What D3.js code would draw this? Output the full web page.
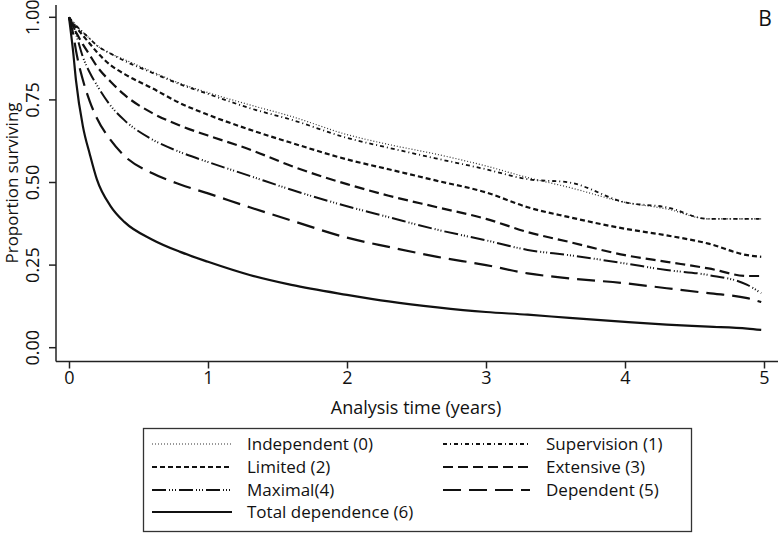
<!DOCTYPE html>
<html>
<head>
<meta charset="utf-8">
<script src="https://cdn.jsdelivr.net/npm/d3@7"></script>
<style>
  html, body { margin: 0; padding: 0; background: #fff; }
  svg { display: block; font-family: "Open Sans", "Noto Sans", sans-serif; }
</style>
</head>
<body>
<svg id="chart" width="778" height="556"></svg>
<script>
// ---- data ----
const times = [0, 0.03, 0.05, 0.1, 0.15, 0.2, 0.3, 0.4, 0.6, 0.8, 1.0, 1.3, 1.6, 2.0, 2.3, 2.65, 3.0, 3.3, 3.6, 4.0, 4.3, 4.6, 4.88, 4.98];
const independent = [1, 0.985, 0.975, 0.955, 0.935, 0.915, 0.89, 0.872, 0.835, 0.80, 0.772, 0.735, 0.70, 0.645, 0.615, 0.585, 0.55, 0.515, 0.485, 0.44, 0.42, 0.39, 0.39, 0.39];
const supervision = [1, 0.985, 0.975, 0.955, 0.935, 0.915, 0.89, 0.868, 0.832, 0.797, 0.768, 0.725, 0.69, 0.635, 0.605, 0.572, 0.54, 0.51, 0.50, 0.44, 0.425, 0.39, 0.39, 0.39];
const limited = [1, 0.98, 0.97, 0.945, 0.92, 0.895, 0.855, 0.828, 0.785, 0.74, 0.705, 0.66, 0.62, 0.57, 0.54, 0.505, 0.47, 0.425, 0.395, 0.36, 0.34, 0.315, 0.28, 0.275];
const extensive = [1, 0.97, 0.955, 0.918, 0.885, 0.852, 0.805, 0.765, 0.71, 0.672, 0.642, 0.60, 0.55, 0.495, 0.46, 0.425, 0.39, 0.35, 0.32, 0.28, 0.26, 0.24, 0.217, 0.217];
const maximal = [1, 0.975, 0.95, 0.88, 0.832, 0.795, 0.732, 0.688, 0.63, 0.592, 0.562, 0.52, 0.478, 0.428, 0.395, 0.357, 0.325, 0.296, 0.28, 0.255, 0.235, 0.22, 0.19, 0.165];
const dependent = [1, 0.95, 0.9, 0.81, 0.745, 0.695, 0.628, 0.58, 0.528, 0.494, 0.467, 0.425, 0.385, 0.333, 0.305, 0.275, 0.25, 0.225, 0.21, 0.195, 0.18, 0.165, 0.15, 0.138];
const totalDependence = [1, 0.895, 0.81, 0.67, 0.585, 0.51, 0.428, 0.38, 0.327, 0.29, 0.26, 0.22, 0.19, 0.16, 0.14, 0.122, 0.108, 0.1, 0.09, 0.078, 0.07, 0.064, 0.058, 0.054];

const seriesNames = ["Independent (0)", "Supervision (1)", "Limited (2)", "Extensive (3)", "Maximal(4)", "Dependent (5)", "Total dependence (6)"];
const seriesValues = [independent, supervision, limited, extensive, maximal, dependent, totalDependence];
const xTicks = [0, 1, 2, 3, 4, 5];
const yTicks = [0, 0.25, 0.5, 0.75, 1];
const xTitle = "Analysis time (years)";
const yTitle = "Proportion surviving";
const panelLabel = "B";

// ---- styles ----
const styles = [
  { dash: "1,2", width: 1.2, color: "#333" },
  { dash: "4,3,1,3", width: 1.8, color: "#111" },
  { dash: "5,3", width: 2.2, color: "#111" },
  { dash: "10,5", width: 2.2, color: "#111" },
  { dash: "14,3,1,2,1,2,1,3", width: 2, color: "#111" },
  { dash: "18,8", width: 2.2, color: "#111" },
  { dash: null, width: 2.2, color: "#111" }
];

const svg = d3.select("#chart");
const x = d3.scaleLinear().domain([0, 5]).range([69, 764]);
const y = d3.scaleLinear().domain([0, 1]).range([347.7, 17.3]);

// axis lines
const axisColor = "#222";
svg.append("line").attr("x1", 56).attr("x2", 56).attr("y1", 5).attr("y2", 361.5)
  .attr("stroke", axisColor).attr("stroke-width", 1.5);
svg.append("line").attr("x1", 56).attr("x2", 778).attr("y1", 361.5).attr("y2", 361.5)
  .attr("stroke", axisColor).attr("stroke-width", 1.5);

// x axis
const gx = svg.append("g").attr("transform", "translate(0,361.5)")
  .call(d3.axisBottom(x).tickValues(xTicks).tickFormat(d3.format("d")).tickSize(7).tickPadding(3));
gx.select(".domain").remove();
gx.selectAll("line").attr("stroke", axisColor).attr("stroke-width", 1.5);
gx.selectAll("text").attr("font-size", 18).attr("fill", "#111").attr("font-family", "Open Sans");

// y axis
const gy = svg.append("g").attr("transform", "translate(56,0)")
  .call(d3.axisLeft(y).tickValues(yTicks).tickFormat(d3.format(".2f")).tickSize(7));
gy.select(".domain").remove();
gy.selectAll("line").attr("stroke", axisColor).attr("stroke-width", 1.5);
gy.selectAll("text")
  .attr("font-size", 18).attr("fill", "#111").attr("font-family", "Open Sans")
  .attr("x", null).attr("dy", null)
  .attr("text-anchor", "middle")
  .attr("transform", d => `translate(-17,${y(d)}) rotate(-90)`)
  .attr("y", 0);
gy.selectAll(".tick").attr("transform", null);
gy.selectAll(".tick line").attr("transform", d => `translate(0,${y(d)})`);

// titles
svg.append("text").attr("x", 416).attr("y", 414).attr("text-anchor", "middle")
  .attr("font-size", 18).attr("fill", "#111").text(xTitle);
svg.append("text").attr("transform", "translate(18,183) rotate(-90)").attr("text-anchor", "middle")
  .attr("font-size", 17).attr("fill", "#111").text(yTitle);
svg.append("text").attr("x", 765).attr("y", 26).attr("text-anchor", "middle")
  .attr("font-size", 21).attr("fill", "#111").text(panelLabel);

// curves
const line = d3.line().x(d => x(d[0])).y(d => y(d[1])).curve(d3.curveMonotoneX);
seriesValues.forEach((vals, i) => {
  const pts = times.map((t, j) => [t, vals[j]]);
  svg.append("path").datum(pts).attr("d", line)
    .attr("fill", "none").attr("stroke", styles[i].color)
    .attr("stroke-width", styles[i].width)
    .attr("stroke-dasharray", styles[i].dash);
});

// legend
const lg = svg.append("g");
lg.append("rect").attr("x", 143.5).attr("y", 428.5).attr("width", 548).attr("height", 103)
  .attr("fill", "#fff").attr("stroke", "#333").attr("stroke-width", 1.3);
const rowY = [444, 467, 490, 512];
const cols = [{ x1: 152, x2: 232, tx: 247 }, { x1: 443, x2: 530, tx: 546 }];
seriesNames.forEach((name, i) => {
  const r = Math.floor(i / 2), c = i % 2;
  const yy = rowY[r];
  lg.append("line").attr("x1", cols[c].x1).attr("x2", cols[c].x2).attr("y1", yy).attr("y2", yy)
    .attr("stroke", styles[i].color).attr("stroke-width", styles[i].width)
    .attr("stroke-dasharray", styles[i].dash);
  lg.append("text").attr("x", cols[c].tx).attr("y", yy).attr("dy", "0.35em")
    .attr("font-size", 17).attr("fill", "#111").text(name);
});
</script>
</body>
</html>
